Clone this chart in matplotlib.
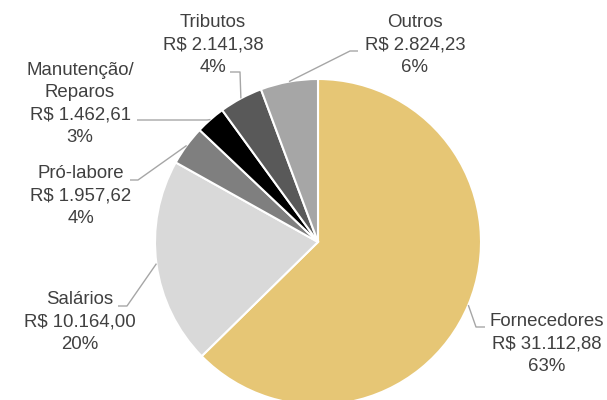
import numpy as np
import matplotlib
matplotlib.use("Agg")
from matplotlib import pyplot as plt

# data
categories = ["Fornecedores", "Salários", "Pró-labore", "Manutenção/\nReparos", "Tributos", "Outros"]
values = [31112.88, 10164.00, 1957.62, 1462.61, 2141.38, 2824.23]
colors = ["#E6C675", "#D9D9D9", "#7F7F7F", "#000000", "#595959", "#A6A6A6"]

# layout, in figure pixels (y grows downward)
CX, CY, R = 318, 242, 163
label_pos = [(547, 344), (80, 322), (81, 196), (80, 104), (213, 45), (415, 45)]
elbows = [((476, 327), (485, 327)),
          ((127, 306), (118, 306)),
          ((138, 180), (130, 180)),
          ((207, 120), (137, 120)),
          ((240, 72), (230, 72)),
          ((350, 51), (358, 51))]

TEXT_COLOR = "#404040"
LINE_COLOR = "#A6A6A6"


def fmt_brl(v):
  s = "{:,.2f}".format(v)
  s = s.replace(",", "X").replace(".", ",").replace("X", ".")
  return "R$ " + s


plt.rcParams['font.family'] = ['Liberation Sans', 'DejaVu Sans']

fig = plt.figure(figsize=(6.07, 4.00), dpi=100)
ax = fig.add_axes([0, 0, 1, 1])

total = sum(values)
wedges, _ = ax.pie(values, colors=colors, startangle=-90, counterclock=True,
                   center=(CX, CY), radius=R,
                   wedgeprops=dict(edgecolor="white", linewidth=1.5))

ax.set_xlim(0, 607)
ax.set_ylim(400, 0)
ax.set_aspect('equal')
ax.axis('off')

for w, cat, v, (lx, ly), (elb, end) in zip(wedges, categories, values, label_pos, elbows):
  ang = np.deg2rad((w.theta1 + w.theta2) / 2.0)
  ax0 = CX + R * np.cos(ang)
  ay0 = CY + R * np.sin(ang)
  ax.plot([ax0, elb[0], end[0]], [ay0, elb[1], end[1]], color=LINE_COLOR, lw=1.0,
          solid_capstyle='butt')
  pct = "{:.0f}%".format(100.0 * v / total)
  ax.text(lx, ly, "%s\n%s\n%s" % (cat, fmt_brl(v), pct), ha='center', va='center',
          multialignment='center', fontsize=13.4, linespacing=1.4, color=TEXT_COLOR)

fig.savefig("out.png", dpi=100)
